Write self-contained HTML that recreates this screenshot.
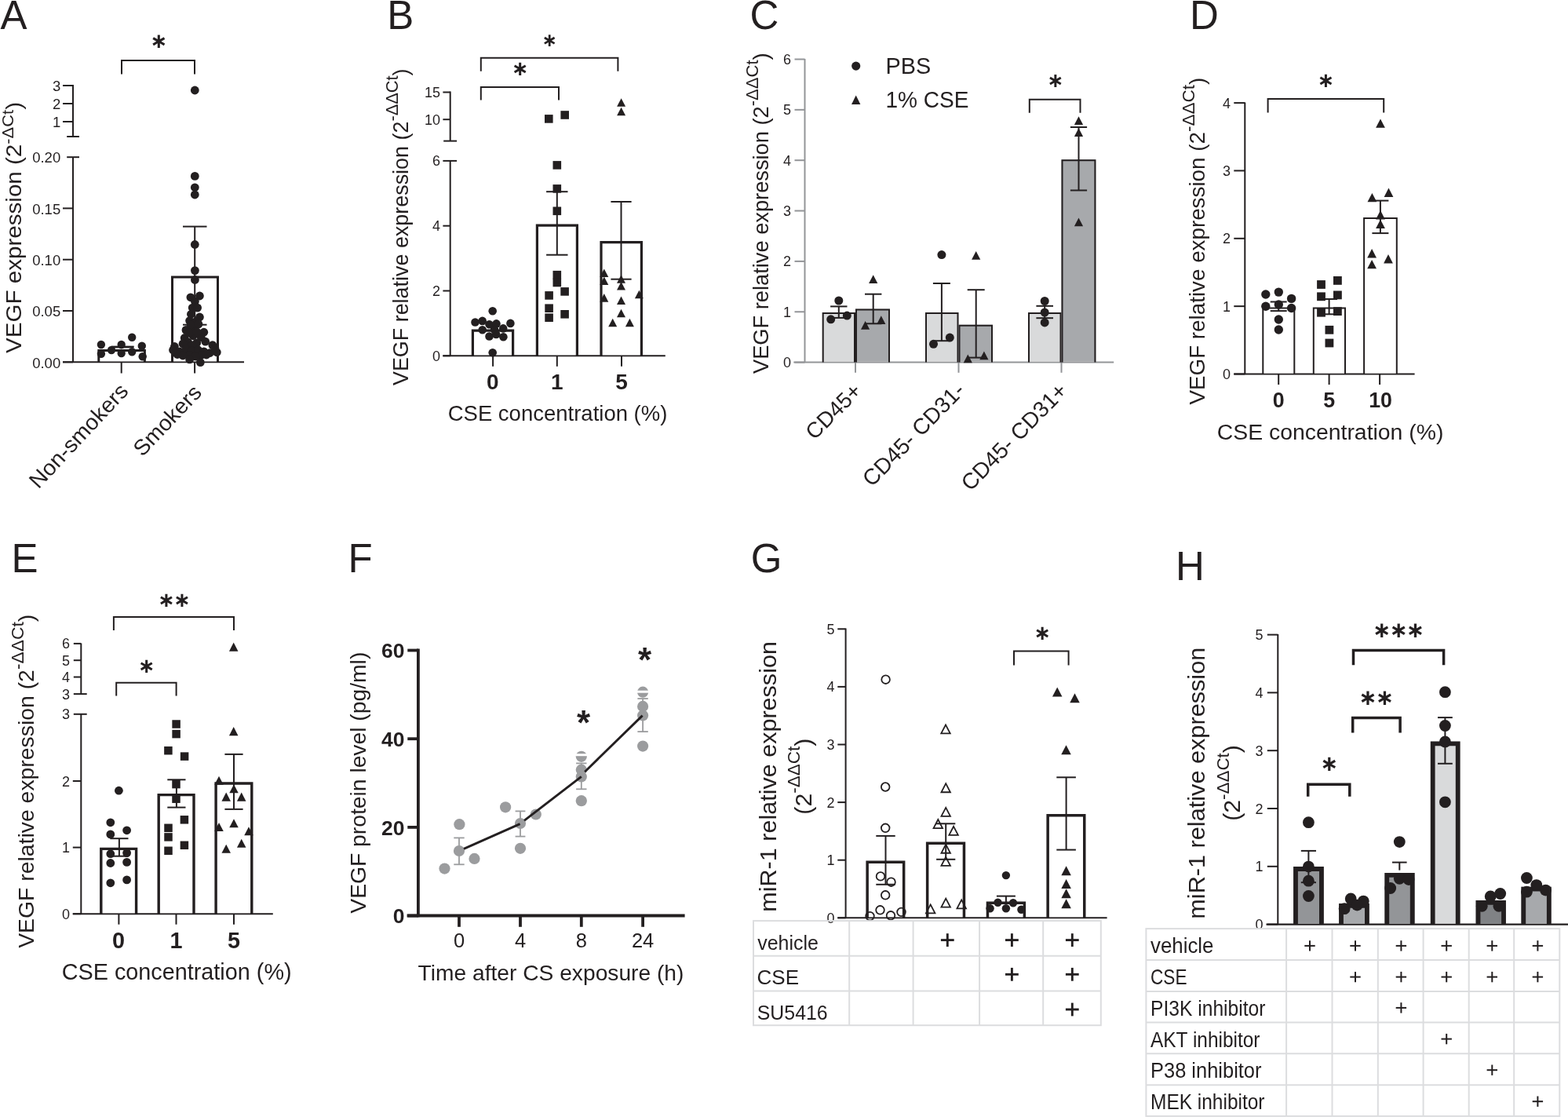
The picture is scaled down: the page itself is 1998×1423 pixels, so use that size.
<!DOCTYPE html>
<html><head><meta charset="utf-8"><title>Figure</title>
<style>html,body{margin:0;padding:0;background:#fff;overflow:hidden}svg{display:block}</style></head>
<body>
<svg xmlns="http://www.w3.org/2000/svg" width="1998" height="1423" viewBox="0 0 1998 1423">
<rect width="1998" height="1423" fill="#fff"/>
<text x="0.5" y="36.9" font-size="51" font-family="'Liberation Sans', Arial, sans-serif" fill="#231f20">A</text>
<line x1="93" y1="108" x2="93" y2="174" stroke="#231f20" stroke-width="2" stroke-linecap="butt"/>
<line x1="80" y1="109" x2="93" y2="109" stroke="#231f20" stroke-width="2" stroke-linecap="butt"/>
<text x="77.2" y="116.2" font-size="18.5" font-family="'Liberation Sans', Arial, sans-serif" fill="#231f20" text-anchor="end">3</text>
<line x1="80" y1="132" x2="93" y2="132" stroke="#231f20" stroke-width="2" stroke-linecap="butt"/>
<text x="77.2" y="139.2" font-size="18.5" font-family="'Liberation Sans', Arial, sans-serif" fill="#231f20" text-anchor="end">2</text>
<line x1="80" y1="155" x2="93" y2="155" stroke="#231f20" stroke-width="2" stroke-linecap="butt"/>
<text x="77.2" y="162.2" font-size="18.5" font-family="'Liberation Sans', Arial, sans-serif" fill="#231f20" text-anchor="end">1</text>
<line x1="85.2" y1="174" x2="101" y2="174" stroke="#231f20" stroke-width="2" stroke-linecap="butt"/>
<line x1="93" y1="200" x2="93" y2="462" stroke="#231f20" stroke-width="2" stroke-linecap="butt"/>
<line x1="85.2" y1="200.2" x2="101" y2="200.2" stroke="#231f20" stroke-width="2" stroke-linecap="butt"/>
<text x="77.2" y="207.3" font-size="18.5" font-family="'Liberation Sans', Arial, sans-serif" fill="#231f20" text-anchor="end">0.20</text>
<line x1="80" y1="265.4" x2="93" y2="265.4" stroke="#231f20" stroke-width="2" stroke-linecap="butt"/>
<text x="77.2" y="272.6" font-size="18.5" font-family="'Liberation Sans', Arial, sans-serif" fill="#231f20" text-anchor="end">0.15</text>
<line x1="80" y1="330.7" x2="93" y2="330.7" stroke="#231f20" stroke-width="2" stroke-linecap="butt"/>
<text x="77.2" y="337.9" font-size="18.5" font-family="'Liberation Sans', Arial, sans-serif" fill="#231f20" text-anchor="end">0.10</text>
<line x1="80" y1="396" x2="93" y2="396" stroke="#231f20" stroke-width="2" stroke-linecap="butt"/>
<text x="77.2" y="403.2" font-size="18.5" font-family="'Liberation Sans', Arial, sans-serif" fill="#231f20" text-anchor="end">0.05</text>
<line x1="80" y1="461.3" x2="93" y2="461.3" stroke="#231f20" stroke-width="2" stroke-linecap="butt"/>
<text x="77.2" y="468.5" font-size="18.5" font-family="'Liberation Sans', Arial, sans-serif" fill="#231f20" text-anchor="end">0.00</text>
<line x1="80" y1="461.3" x2="311" y2="461.3" stroke="#231f20" stroke-width="2" stroke-linecap="butt"/>
<line x1="154.7" y1="461.3" x2="154.7" y2="475.5" stroke="#231f20" stroke-width="2" stroke-linecap="butt"/>
<line x1="248.1" y1="461.3" x2="248.1" y2="475.5" stroke="#231f20" stroke-width="2" stroke-linecap="butt"/>
<rect x="124.3" y="445" width="61.6" height="15.3" fill="#fff"/>
<path d="M125.8,461.3 V446.5 H184.4 V461.3" fill="none" stroke="#231f20" stroke-width="3" stroke-linejoin="miter"/>
<rect x="218" y="351.6" width="61" height="108.7" fill="#fff"/>
<path d="M219.5,461.3 V353.1 H277.5 V461.3" fill="none" stroke="#231f20" stroke-width="3" stroke-linejoin="miter"/>
<line x1="248.2" y1="288.6" x2="248.2" y2="413.7" stroke="#231f20" stroke-width="2" stroke-linecap="butt"/>
<line x1="233" y1="288.6" x2="263.5" y2="288.6" stroke="#231f20" stroke-width="2" stroke-linecap="butt"/>
<line x1="233" y1="413.7" x2="263.5" y2="413.7" stroke="#231f20" stroke-width="2" stroke-linecap="butt"/>
<line x1="142" y1="442" x2="170.7" y2="442" stroke="#231f20" stroke-width="2.8" stroke-linecap="butt"/>
<circle cx="128.9" cy="439" r="5.2" fill="#231f20"/>
<circle cx="142" cy="446" r="5.2" fill="#231f20"/>
<circle cx="154.7" cy="439" r="5.2" fill="#231f20"/>
<circle cx="168.2" cy="429.7" r="5.2" fill="#231f20"/>
<circle cx="180.8" cy="440.7" r="5.2" fill="#231f20"/>
<circle cx="128.9" cy="450.8" r="5.2" fill="#231f20"/>
<circle cx="154.7" cy="450" r="5.2" fill="#231f20"/>
<circle cx="168.2" cy="448.3" r="5.2" fill="#231f20"/>
<circle cx="181.7" cy="454.2" r="5.2" fill="#231f20"/>
<circle cx="248.3" cy="115" r="5.4" fill="#231f20"/>
<circle cx="248.3" cy="224.4" r="5.4" fill="#231f20"/>
<circle cx="248.3" cy="238.8" r="5.4" fill="#231f20"/>
<circle cx="248.3" cy="248" r="5.4" fill="#231f20"/>
<circle cx="248.3" cy="311.5" r="5.4" fill="#231f20"/>
<circle cx="248.4" cy="344.6" r="5.4" fill="#231f20"/>
<circle cx="248.4" cy="356.5" r="5.4" fill="#231f20"/>
<circle cx="242.9" cy="378.8" r="5.4" fill="#231f20"/>
<circle cx="254.4" cy="377" r="5.4" fill="#231f20"/>
<circle cx="248.4" cy="383.9" r="5.4" fill="#231f20"/>
<circle cx="245.2" cy="392.1" r="5.4" fill="#231f20"/>
<circle cx="251.6" cy="392.1" r="5.4" fill="#231f20"/>
<circle cx="243.4" cy="400.3" r="5.4" fill="#231f20"/>
<circle cx="254.4" cy="404" r="5.4" fill="#231f20"/>
<circle cx="241.6" cy="408.6" r="5.4" fill="#231f20"/>
<circle cx="249.8" cy="409.5" r="5.4" fill="#231f20"/>
<circle cx="237" cy="420.4" r="5.4" fill="#231f20"/>
<circle cx="248" cy="417.7" r="5.4" fill="#231f20"/>
<circle cx="259.8" cy="423.2" r="5.4" fill="#231f20"/>
<circle cx="243" cy="414" r="5.4" fill="#231f20"/>
<circle cx="253" cy="413" r="5.4" fill="#231f20"/>
<circle cx="235.2" cy="430.5" r="5.4" fill="#231f20"/>
<circle cx="246.1" cy="427.8" r="5.4" fill="#231f20"/>
<circle cx="256.2" cy="429.6" r="5.4" fill="#231f20"/>
<circle cx="241" cy="424" r="5.4" fill="#231f20"/>
<circle cx="251" cy="423" r="5.4" fill="#231f20"/>
<circle cx="239.7" cy="436" r="5.4" fill="#231f20"/>
<circle cx="250.7" cy="436.9" r="5.4" fill="#231f20"/>
<circle cx="261.7" cy="435.1" r="5.4" fill="#231f20"/>
<circle cx="233" cy="438" r="5.4" fill="#231f20"/>
<circle cx="245" cy="440" r="5.4" fill="#231f20"/>
<circle cx="222.4" cy="441.5" r="5.4" fill="#231f20"/>
<circle cx="228.8" cy="447.9" r="5.4" fill="#231f20"/>
<circle cx="237" cy="445.1" r="5.4" fill="#231f20"/>
<circle cx="244.3" cy="446.9" r="5.4" fill="#231f20"/>
<circle cx="252.5" cy="446" r="5.4" fill="#231f20"/>
<circle cx="259.8" cy="447.9" r="5.4" fill="#231f20"/>
<circle cx="270.8" cy="439.6" r="5.4" fill="#231f20"/>
<circle cx="276.3" cy="448.8" r="5.4" fill="#231f20"/>
<circle cx="267.2" cy="449.7" r="5.4" fill="#231f20"/>
<circle cx="226" cy="451.5" r="5.4" fill="#231f20"/>
<circle cx="241.6" cy="452.4" r="5.4" fill="#231f20"/>
<circle cx="256.2" cy="452.4" r="5.4" fill="#231f20"/>
<circle cx="233" cy="453" r="5.4" fill="#231f20"/>
<circle cx="249" cy="454" r="5.4" fill="#231f20"/>
<circle cx="263" cy="452" r="5.4" fill="#231f20"/>
<circle cx="220.5" cy="446" r="5.4" fill="#231f20"/>
<circle cx="274" cy="444" r="5.4" fill="#231f20"/>
<circle cx="241.6" cy="457.9" r="5.4" fill="#231f20"/>
<circle cx="255.3" cy="461.6" r="5.4" fill="#231f20"/>
<polyline points="155,94.5 155,77 248,77 248,94.5" fill="none" stroke="#231f20" stroke-width="2" stroke-linejoin="miter"/>
<text x="202.2" y="60.75" font-size="26.5" font-family="'DejaVu Sans', 'Liberation Sans', sans-serif" font-weight="bold" fill="#231f20" text-anchor="middle">∗</text>
<text x="27" y="450" font-size="27" font-family="'Liberation Sans', Arial, sans-serif" fill="#231f20" transform="rotate(-90 27 450)" textLength="320" lengthAdjust="spacingAndGlyphs">VEGF expression (2<tspan font-size="20" dy="-10.5">-ΔCt</tspan><tspan dy="10.5">)</tspan></text>
<text x="165" y="499.5" font-size="27.8" font-family="'Liberation Sans', Arial, sans-serif" fill="#231f20" text-anchor="end" textLength="170" lengthAdjust="spacingAndGlyphs" transform="rotate(-47 165 499.5)">Non-smokers</text>
<text x="258.5" y="501.5" font-size="27.8" font-family="'Liberation Sans', Arial, sans-serif" fill="#231f20" text-anchor="end" textLength="112" lengthAdjust="spacingAndGlyphs" transform="rotate(-46.5 258.5 501.5)">Smokers</text>
<text x="493.3" y="36.9" font-size="51" font-family="'Liberation Sans', Arial, sans-serif" fill="#231f20">B</text>
<line x1="573.7" y1="116.5" x2="573.7" y2="179.6" stroke="#231f20" stroke-width="2" stroke-linecap="butt"/>
<line x1="564.4" y1="117.5" x2="573.7" y2="117.5" stroke="#231f20" stroke-width="2" stroke-linecap="butt"/>
<text x="561" y="124" font-size="18" font-family="'Liberation Sans', Arial, sans-serif" fill="#231f20" text-anchor="end">15</text>
<line x1="564.4" y1="152.2" x2="573.7" y2="152.2" stroke="#231f20" stroke-width="2" stroke-linecap="butt"/>
<text x="561" y="158.7" font-size="18" font-family="'Liberation Sans', Arial, sans-serif" fill="#231f20" text-anchor="end">10</text>
<line x1="565.2" y1="179.6" x2="582.1" y2="179.6" stroke="#231f20" stroke-width="2" stroke-linecap="butt"/>
<line x1="573.7" y1="204.9" x2="573.7" y2="454" stroke="#231f20" stroke-width="2" stroke-linecap="butt"/>
<line x1="564.4" y1="204.9" x2="582.1" y2="204.9" stroke="#231f20" stroke-width="2" stroke-linecap="butt"/>
<text x="561" y="211.4" font-size="18" font-family="'Liberation Sans', Arial, sans-serif" fill="#231f20" text-anchor="end">6</text>
<line x1="564.4" y1="287.7" x2="573.7" y2="287.7" stroke="#231f20" stroke-width="2" stroke-linecap="butt"/>
<text x="561" y="294.2" font-size="18" font-family="'Liberation Sans', Arial, sans-serif" fill="#231f20" text-anchor="end">4</text>
<line x1="564.4" y1="370.5" x2="573.7" y2="370.5" stroke="#231f20" stroke-width="2" stroke-linecap="butt"/>
<text x="561" y="377" font-size="18" font-family="'Liberation Sans', Arial, sans-serif" fill="#231f20" text-anchor="end">2</text>
<line x1="564.4" y1="453.3" x2="573.7" y2="453.3" stroke="#231f20" stroke-width="2" stroke-linecap="butt"/>
<text x="561" y="459.8" font-size="18" font-family="'Liberation Sans', Arial, sans-serif" fill="#231f20" text-anchor="end">0</text>
<line x1="564.4" y1="453.3" x2="847.8" y2="453.3" stroke="#231f20" stroke-width="2" stroke-linecap="butt"/>
<line x1="628.1" y1="453.3" x2="628.1" y2="466.8" stroke="#231f20" stroke-width="2" stroke-linecap="butt"/>
<line x1="709.8" y1="453.3" x2="709.8" y2="466.8" stroke="#231f20" stroke-width="2" stroke-linecap="butt"/>
<line x1="792" y1="453.3" x2="792" y2="466.8" stroke="#231f20" stroke-width="2" stroke-linecap="butt"/>
<rect x="600.8" y="419.5" width="54.4" height="32.8" fill="#fff"/>
<path d="M602.4,453.3 V421.1 H653.6 V453.3" fill="none" stroke="#231f20" stroke-width="3.2" stroke-linejoin="miter"/>
<rect x="682.8" y="285.5" width="54.2" height="166.8" fill="#fff"/>
<path d="M684.4,453.3 V287.1 H735.4 V453.3" fill="none" stroke="#231f20" stroke-width="3.2" stroke-linejoin="miter"/>
<rect x="764.4" y="307.1" width="54.6" height="145.2" fill="#fff"/>
<path d="M766,453.3 V308.7 H817.4 V453.3" fill="none" stroke="#231f20" stroke-width="3.2" stroke-linejoin="miter"/>
<line x1="709.8" y1="244.2" x2="709.8" y2="324.7" stroke="#231f20" stroke-width="2" stroke-linecap="butt"/>
<line x1="696.1" y1="244.2" x2="723.5" y2="244.2" stroke="#231f20" stroke-width="2" stroke-linecap="butt"/>
<line x1="696.1" y1="324.7" x2="723.5" y2="324.7" stroke="#231f20" stroke-width="2" stroke-linecap="butt"/>
<line x1="791.5" y1="257" x2="791.5" y2="355.7" stroke="#231f20" stroke-width="2" stroke-linecap="butt"/>
<line x1="778.4" y1="257" x2="804.6" y2="257" stroke="#231f20" stroke-width="2" stroke-linecap="butt"/>
<line x1="778.4" y1="355.7" x2="804.6" y2="355.7" stroke="#231f20" stroke-width="2" stroke-linecap="butt"/>
<line x1="620" y1="416" x2="636" y2="416" stroke="#231f20" stroke-width="2" stroke-linecap="butt"/>
<circle cx="627.7" cy="396.3" r="5.3" fill="#231f20"/>
<circle cx="605.5" cy="410.5" r="5.3" fill="#231f20"/>
<circle cx="614.7" cy="408.9" r="5.3" fill="#231f20"/>
<circle cx="623.5" cy="413.2" r="5.3" fill="#231f20"/>
<circle cx="632.5" cy="412.4" r="5.3" fill="#231f20"/>
<circle cx="650.4" cy="411.9" r="5.3" fill="#231f20"/>
<circle cx="614.7" cy="420.3" r="5.3" fill="#231f20"/>
<circle cx="641.2" cy="418.4" r="5.3" fill="#231f20"/>
<circle cx="630" cy="420" r="5.3" fill="#231f20"/>
<circle cx="623.5" cy="428.5" r="5.3" fill="#231f20"/>
<circle cx="632.2" cy="425.9" r="5.3" fill="#231f20"/>
<circle cx="641.4" cy="429.3" r="5.3" fill="#231f20"/>
<circle cx="627.7" cy="449.2" r="5.3" fill="#231f20"/>
<rect x="694" y="146.1" width="10.6" height="10.6" fill="#231f20"/>
<rect x="714.4" y="141.2" width="10.6" height="10.6" fill="#231f20"/>
<rect x="704.5" y="205.1" width="10.6" height="10.6" fill="#231f20"/>
<rect x="704.5" y="235.1" width="10.6" height="10.6" fill="#231f20"/>
<rect x="704.5" y="263.5" width="10.6" height="10.6" fill="#231f20"/>
<rect x="704.5" y="344.9" width="10.6" height="10.6" fill="#231f20"/>
<rect x="704.5" y="354.7" width="10.6" height="10.6" fill="#231f20"/>
<rect x="694.3" y="371.1" width="10.6" height="10.6" fill="#231f20"/>
<rect x="714.3" y="366.1" width="10.6" height="10.6" fill="#231f20"/>
<rect x="694.3" y="387.4" width="10.6" height="10.6" fill="#231f20"/>
<rect x="694.3" y="399.4" width="10.6" height="10.6" fill="#231f20"/>
<rect x="714.3" y="395" width="10.6" height="10.6" fill="#231f20"/>
<polygon points="791.6,125.2 797.1,135.76 786.1,135.76" fill="#231f20"/>
<polygon points="791.6,136.8 797.1,147.36 786.1,147.36" fill="#231f20"/>
<polygon points="769.8,342.4 775.3,352.96 764.3,352.96" fill="#231f20"/>
<polygon points="769.8,352.4 775.3,362.96 764.3,362.96" fill="#231f20"/>
<polygon points="791.5,350.2 797,360.76 786,360.76" fill="#231f20"/>
<polygon points="791.5,358.9 797,369.46 786,369.46" fill="#231f20"/>
<polygon points="769.8,374.1 775.3,384.66 764.3,384.66" fill="#231f20"/>
<polygon points="814.4,369.8 819.9,380.36 808.9,380.36" fill="#231f20"/>
<polygon points="791.5,377.4 797,387.96 786,387.96" fill="#231f20"/>
<polygon points="791.5,393.7 797,404.26 786,404.26" fill="#231f20"/>
<polygon points="780.7,405.7 786.2,416.26 775.2,416.26" fill="#231f20"/>
<polygon points="802.4,405.7 807.9,416.26 796.9,416.26" fill="#231f20"/>
<polyline points="612.8,90.7 612.8,73.8 787.4,73.8 787.4,90.7" fill="none" stroke="#231f20" stroke-width="2" stroke-linejoin="miter"/>
<polyline points="612.8,127.6 612.8,111 712,111 712,127.6" fill="none" stroke="#231f20" stroke-width="2" stroke-linejoin="miter"/>
<text x="700.3" y="58.9" font-size="23.5" font-family="'DejaVu Sans', 'Liberation Sans', sans-serif" font-weight="bold" fill="#231f20" text-anchor="middle">∗</text>
<text x="662.9" y="95.89" font-size="26" font-family="'DejaVu Sans', 'Liberation Sans', sans-serif" font-weight="bold" fill="#231f20" text-anchor="middle">∗</text>
<text x="627.9" y="496.2" font-size="28" font-family="'Liberation Sans', Arial, sans-serif" fill="#231f20" text-anchor="middle" font-weight="bold">0</text>
<text x="709.8" y="496.2" font-size="28" font-family="'Liberation Sans', Arial, sans-serif" fill="#231f20" text-anchor="middle" font-weight="bold">1</text>
<text x="792" y="496.2" font-size="28" font-family="'Liberation Sans', Arial, sans-serif" fill="#231f20" text-anchor="middle" font-weight="bold">5</text>
<text x="570.7" y="535.8" font-size="27.5" font-family="'Liberation Sans', Arial, sans-serif" fill="#231f20">CSE concentration (%)</text>
<text x="520.2" y="491" font-size="27.8" font-family="'Liberation Sans', Arial, sans-serif" fill="#231f20" transform="rotate(-90 520.2 491)" textLength="403.5" lengthAdjust="spacingAndGlyphs">VEGF relative expression (2<tspan font-size="22.5" dy="-13">-ΔΔCt</tspan><tspan dy="13">)</tspan></text>
<text x="955.5" y="37" font-size="51" font-family="'Liberation Sans', Arial, sans-serif" fill="#231f20">C</text>
<line x1="1025.5" y1="75" x2="1025.5" y2="462" stroke="#939598" stroke-width="2" stroke-linecap="butt"/>
<line x1="1012.5" y1="461.6" x2="1025.5" y2="461.6" stroke="#939598" stroke-width="2" stroke-linecap="butt"/>
<text x="1008" y="468.1" font-size="18" font-family="'Liberation Sans', Arial, sans-serif" fill="#231f20" text-anchor="end">0</text>
<line x1="1012.5" y1="397.25" x2="1025.5" y2="397.25" stroke="#939598" stroke-width="2" stroke-linecap="butt"/>
<text x="1008" y="403.75" font-size="18" font-family="'Liberation Sans', Arial, sans-serif" fill="#231f20" text-anchor="end">1</text>
<line x1="1012.5" y1="332.9" x2="1025.5" y2="332.9" stroke="#939598" stroke-width="2" stroke-linecap="butt"/>
<text x="1008" y="339.4" font-size="18" font-family="'Liberation Sans', Arial, sans-serif" fill="#231f20" text-anchor="end">2</text>
<line x1="1012.5" y1="268.55" x2="1025.5" y2="268.55" stroke="#939598" stroke-width="2" stroke-linecap="butt"/>
<text x="1008" y="275.05" font-size="18" font-family="'Liberation Sans', Arial, sans-serif" fill="#231f20" text-anchor="end">3</text>
<line x1="1012.5" y1="204.2" x2="1025.5" y2="204.2" stroke="#939598" stroke-width="2" stroke-linecap="butt"/>
<text x="1008" y="210.7" font-size="18" font-family="'Liberation Sans', Arial, sans-serif" fill="#231f20" text-anchor="end">4</text>
<line x1="1012.5" y1="139.85" x2="1025.5" y2="139.85" stroke="#939598" stroke-width="2" stroke-linecap="butt"/>
<text x="1008" y="146.35" font-size="18" font-family="'Liberation Sans', Arial, sans-serif" fill="#231f20" text-anchor="end">5</text>
<line x1="1012.5" y1="75.5" x2="1025.5" y2="75.5" stroke="#939598" stroke-width="2" stroke-linecap="butt"/>
<text x="1008" y="82" font-size="18" font-family="'Liberation Sans', Arial, sans-serif" fill="#231f20" text-anchor="end">6</text>
<line x1="1011.3" y1="461.6" x2="1419.2" y2="461.6" stroke="#939598" stroke-width="2" stroke-linecap="butt"/>
<line x1="1090" y1="461.6" x2="1090" y2="474.8" stroke="#939598" stroke-width="2" stroke-linecap="butt"/>
<line x1="1221.5" y1="461.6" x2="1221.5" y2="474.8" stroke="#939598" stroke-width="2" stroke-linecap="butt"/>
<line x1="1352.5" y1="461.6" x2="1352.5" y2="474.8" stroke="#939598" stroke-width="2" stroke-linecap="butt"/>
<rect x="1047.7" y="398" width="42.3" height="62.6" fill="#d9dadb"/>
<path d="M1048.7,461.6 V399 H1089 V461.6" fill="none" stroke="#231f20" stroke-width="2" stroke-linejoin="miter"/>
<rect x="1090" y="393.6" width="44" height="67" fill="#a7a9ac"/>
<path d="M1091,461.6 V394.6 H1133 V461.6" fill="none" stroke="#231f20" stroke-width="2" stroke-linejoin="miter"/>
<rect x="1179" y="398" width="42.5" height="62.6" fill="#d9dadb"/>
<path d="M1180,461.6 V399 H1220.5 V461.6" fill="none" stroke="#231f20" stroke-width="2" stroke-linejoin="miter"/>
<rect x="1221.5" y="413.7" width="43.5" height="46.9" fill="#a7a9ac"/>
<path d="M1222.5,461.6 V414.7 H1264 V461.6" fill="none" stroke="#231f20" stroke-width="2" stroke-linejoin="miter"/>
<rect x="1310" y="398" width="42.5" height="62.6" fill="#d9dadb"/>
<path d="M1311,461.6 V399 H1351.5 V461.6" fill="none" stroke="#231f20" stroke-width="2" stroke-linejoin="miter"/>
<rect x="1352.5" y="203.3" width="43.9" height="257.3" fill="#a7a9ac"/>
<path d="M1353.5,461.6 V204.3 H1395.4 V461.6" fill="none" stroke="#231f20" stroke-width="2" stroke-linejoin="miter"/>
<line x1="1068.8" y1="390.4" x2="1068.8" y2="404.9" stroke="#231f20" stroke-width="2" stroke-linecap="butt"/>
<line x1="1058.1" y1="390.4" x2="1079.5" y2="390.4" stroke="#231f20" stroke-width="2" stroke-linecap="butt"/>
<line x1="1058.1" y1="404.9" x2="1079.5" y2="404.9" stroke="#231f20" stroke-width="2" stroke-linecap="butt"/>
<line x1="1112.7" y1="374.7" x2="1112.7" y2="412.3" stroke="#231f20" stroke-width="2" stroke-linecap="butt"/>
<line x1="1102" y1="374.7" x2="1123.4" y2="374.7" stroke="#231f20" stroke-width="2" stroke-linecap="butt"/>
<line x1="1102" y1="412.3" x2="1123.4" y2="412.3" stroke="#231f20" stroke-width="2" stroke-linecap="butt"/>
<line x1="1199.9" y1="361" x2="1199.9" y2="434.2" stroke="#231f20" stroke-width="2" stroke-linecap="butt"/>
<line x1="1188.9" y1="361" x2="1210.9" y2="361" stroke="#231f20" stroke-width="2" stroke-linecap="butt"/>
<line x1="1188.9" y1="434.2" x2="1210.9" y2="434.2" stroke="#231f20" stroke-width="2" stroke-linecap="butt"/>
<line x1="1243.7" y1="369.2" x2="1243.7" y2="455.6" stroke="#231f20" stroke-width="2" stroke-linecap="butt"/>
<line x1="1232.7" y1="369.2" x2="1254.7" y2="369.2" stroke="#231f20" stroke-width="2" stroke-linecap="butt"/>
<line x1="1232.7" y1="455.6" x2="1254.7" y2="455.6" stroke="#231f20" stroke-width="2" stroke-linecap="butt"/>
<line x1="1331.2" y1="389.8" x2="1331.2" y2="405.2" stroke="#231f20" stroke-width="2" stroke-linecap="butt"/>
<line x1="1320.4" y1="389.8" x2="1342" y2="389.8" stroke="#231f20" stroke-width="2" stroke-linecap="butt"/>
<line x1="1320.4" y1="405.2" x2="1342" y2="405.2" stroke="#231f20" stroke-width="2" stroke-linecap="butt"/>
<line x1="1374.5" y1="162" x2="1374.5" y2="242.5" stroke="#231f20" stroke-width="2" stroke-linecap="butt"/>
<line x1="1363.9" y1="162" x2="1385.1" y2="162" stroke="#231f20" stroke-width="2" stroke-linecap="butt"/>
<line x1="1363.9" y1="242.5" x2="1385.1" y2="242.5" stroke="#231f20" stroke-width="2" stroke-linecap="butt"/>
<circle cx="1068.8" cy="383" r="5.5" fill="#231f20"/>
<circle cx="1058.7" cy="406.8" r="5.5" fill="#231f20"/>
<circle cx="1079.3" cy="402.1" r="5.5" fill="#231f20"/>
<circle cx="1199.9" cy="324.6" r="5.5" fill="#231f20"/>
<circle cx="1189.5" cy="438.3" r="5.5" fill="#231f20"/>
<circle cx="1210.3" cy="430.1" r="5.5" fill="#231f20"/>
<circle cx="1331.2" cy="383.5" r="5.5" fill="#231f20"/>
<circle cx="1331.2" cy="398" r="5.5" fill="#231f20"/>
<circle cx="1331.2" cy="410.9" r="5.5" fill="#231f20"/>
<polygon points="1112.7,350.18 1118.3,360.93 1107.1,360.93" fill="#231f20"/>
<polygon points="1102.6,409.08 1108.2,419.83 1097,419.83" fill="#231f20"/>
<polygon points="1122.8,402.28 1128.4,413.03 1117.2,413.03" fill="#231f20"/>
<polygon points="1243.7,320.08 1249.3,330.83 1238.1,330.83" fill="#231f20"/>
<polygon points="1233.3,451.58 1238.9,462.33 1227.7,462.33" fill="#231f20"/>
<polygon points="1253.9,447.48 1259.5,458.23 1248.3,458.23" fill="#231f20"/>
<polygon points="1374.5,148.28 1380.1,159.03 1368.9,159.03" fill="#231f20"/>
<polygon points="1374.5,163.28 1380.1,174.03 1368.9,174.03" fill="#231f20"/>
<polygon points="1374.5,277.58 1380.1,288.33 1368.9,288.33" fill="#231f20"/>
<circle cx="1090.7" cy="84.1" r="5.6" fill="#231f20"/>
<polygon points="1090.7,121.6 1096.4,133.1 1085,133.1" fill="#231f20"/>
<text x="1128.5" y="93.9" font-size="28.8" font-family="'Liberation Sans', Arial, sans-serif" fill="#231f20">PBS</text>
<text x="1128.5" y="136.9" font-size="28.8" font-family="'Liberation Sans', Arial, sans-serif" fill="#231f20" textLength="106" lengthAdjust="spacingAndGlyphs">1% CSE</text>
<polyline points="1311.8,143.8 1311.8,126.8 1376.5,126.8 1376.5,143.8" fill="none" stroke="#231f20" stroke-width="2" stroke-linejoin="miter"/>
<text x="1344.9" y="110.83" font-size="25.5" font-family="'DejaVu Sans', 'Liberation Sans', sans-serif" font-weight="bold" fill="#231f20" text-anchor="middle">∗</text>
<text x="1099.5" y="499.8" font-size="27.8" font-family="'Liberation Sans', Arial, sans-serif" fill="#231f20" text-anchor="end" transform="rotate(-45 1099.5 499.8)">CD45+</text>
<text x="1231" y="499" font-size="28.3" font-family="'Liberation Sans', Arial, sans-serif" fill="#231f20" text-anchor="end" transform="rotate(-45.5 1231 499)">CD45- CD31-</text>
<text x="1361.5" y="499.5" font-size="28.3" font-family="'Liberation Sans', Arial, sans-serif" fill="#231f20" text-anchor="end" transform="rotate(-45.5 1361.5 499.5)">CD45- CD31+</text>
<text x="979" y="476" font-size="27.8" font-family="'Liberation Sans', Arial, sans-serif" fill="#231f20" transform="rotate(-90 979 476)" textLength="408.7" lengthAdjust="spacingAndGlyphs">VEGF relative expression (2<tspan font-size="22.5" dy="-13">-ΔΔCt</tspan><tspan dy="13">)</tspan></text>
<text x="1516" y="36.9" font-size="51" font-family="'Liberation Sans', Arial, sans-serif" fill="#231f20">D</text>
<line x1="1586.3" y1="130.5" x2="1586.3" y2="477" stroke="#231f20" stroke-width="2" stroke-linecap="butt"/>
<line x1="1572.3" y1="476.5" x2="1586.3" y2="476.5" stroke="#231f20" stroke-width="2" stroke-linecap="butt"/>
<text x="1568" y="483" font-size="18" font-family="'Liberation Sans', Arial, sans-serif" fill="#231f20" text-anchor="end">0</text>
<line x1="1572.3" y1="390.15" x2="1586.3" y2="390.15" stroke="#231f20" stroke-width="2" stroke-linecap="butt"/>
<text x="1568" y="396.65" font-size="18" font-family="'Liberation Sans', Arial, sans-serif" fill="#231f20" text-anchor="end">1</text>
<line x1="1572.3" y1="303.8" x2="1586.3" y2="303.8" stroke="#231f20" stroke-width="2" stroke-linecap="butt"/>
<text x="1568" y="310.3" font-size="18" font-family="'Liberation Sans', Arial, sans-serif" fill="#231f20" text-anchor="end">2</text>
<line x1="1572.3" y1="217.45" x2="1586.3" y2="217.45" stroke="#231f20" stroke-width="2" stroke-linecap="butt"/>
<text x="1568" y="223.95" font-size="18" font-family="'Liberation Sans', Arial, sans-serif" fill="#231f20" text-anchor="end">3</text>
<line x1="1572.3" y1="131.1" x2="1586.3" y2="131.1" stroke="#231f20" stroke-width="2" stroke-linecap="butt"/>
<text x="1568" y="137.6" font-size="18" font-family="'Liberation Sans', Arial, sans-serif" fill="#231f20" text-anchor="end">4</text>
<line x1="1572.3" y1="476.5" x2="1802.6" y2="476.5" stroke="#231f20" stroke-width="2" stroke-linecap="butt"/>
<line x1="1629.2" y1="476.5" x2="1629.2" y2="490" stroke="#231f20" stroke-width="2" stroke-linecap="butt"/>
<line x1="1693.6" y1="476.5" x2="1693.6" y2="490" stroke="#231f20" stroke-width="2" stroke-linecap="butt"/>
<line x1="1758.1" y1="476.5" x2="1758.1" y2="490" stroke="#231f20" stroke-width="2" stroke-linecap="butt"/>
<rect x="1608.3" y="391.4" width="42" height="84.1" fill="#fff"/>
<path d="M1609.3,476.5 V392.4 H1649.3 V476.5" fill="none" stroke="#231f20" stroke-width="2" stroke-linejoin="miter"/>
<rect x="1672.8" y="391.4" width="42.2" height="84.1" fill="#fff"/>
<path d="M1673.8,476.5 V392.4 H1714 V476.5" fill="none" stroke="#231f20" stroke-width="2" stroke-linejoin="miter"/>
<rect x="1737.1" y="277.1" width="43.7" height="198.4" fill="#fff"/>
<path d="M1738.1,476.5 V278.1 H1779.8 V476.5" fill="none" stroke="#231f20" stroke-width="2" stroke-linejoin="miter"/>
<line x1="1629.2" y1="384.5" x2="1629.2" y2="396.1" stroke="#231f20" stroke-width="2" stroke-linecap="butt"/>
<line x1="1618.7" y1="384.5" x2="1639.7" y2="384.5" stroke="#231f20" stroke-width="2" stroke-linecap="butt"/>
<line x1="1618.7" y1="396.1" x2="1639.7" y2="396.1" stroke="#231f20" stroke-width="2" stroke-linecap="butt"/>
<line x1="1693.6" y1="381" x2="1693.6" y2="400.3" stroke="#231f20" stroke-width="2" stroke-linecap="butt"/>
<line x1="1683.2" y1="381" x2="1704" y2="381" stroke="#231f20" stroke-width="2" stroke-linecap="butt"/>
<line x1="1683.2" y1="400.3" x2="1704" y2="400.3" stroke="#231f20" stroke-width="2" stroke-linecap="butt"/>
<line x1="1758.9" y1="255.6" x2="1758.9" y2="297.1" stroke="#231f20" stroke-width="2" stroke-linecap="butt"/>
<line x1="1748.4" y1="255.6" x2="1769.4" y2="255.6" stroke="#231f20" stroke-width="2" stroke-linecap="butt"/>
<line x1="1748.4" y1="297.1" x2="1769.4" y2="297.1" stroke="#231f20" stroke-width="2" stroke-linecap="butt"/>
<circle cx="1612.8" cy="375" r="5.7" fill="#231f20"/>
<circle cx="1629.3" cy="372.1" r="5.7" fill="#231f20"/>
<circle cx="1645.6" cy="380.4" r="5.7" fill="#231f20"/>
<circle cx="1612.8" cy="390.2" r="5.7" fill="#231f20"/>
<circle cx="1629.3" cy="388" r="5.7" fill="#231f20"/>
<circle cx="1645.6" cy="392.5" r="5.7" fill="#231f20"/>
<circle cx="1629.3" cy="407" r="5.7" fill="#231f20"/>
<circle cx="1629.3" cy="420" r="5.7" fill="#231f20"/>
<rect x="1678.1" y="357.1" width="10.8" height="10.8" fill="#231f20"/>
<rect x="1699" y="352" width="10.8" height="10.8" fill="#231f20"/>
<rect x="1678.1" y="372.4" width="10.8" height="10.8" fill="#231f20"/>
<rect x="1699" y="370.5" width="10.8" height="10.8" fill="#231f20"/>
<rect x="1678.1" y="392.8" width="10.8" height="10.8" fill="#231f20"/>
<rect x="1699" y="391.2" width="10.8" height="10.8" fill="#231f20"/>
<rect x="1688.5" y="414.9" width="10.8" height="10.8" fill="#231f20"/>
<rect x="1688.5" y="431.6" width="10.8" height="10.8" fill="#231f20"/>
<polygon points="1759,151.52 1764.9,162.85 1753.1,162.85" fill="#231f20"/>
<polygon points="1748.4,245.92 1754.3,257.25 1742.5,257.25" fill="#231f20"/>
<polygon points="1769.5,239.62 1775.4,250.95 1763.6,250.95" fill="#231f20"/>
<polygon points="1759,268.12 1764.9,279.45 1753.1,279.45" fill="#231f20"/>
<polygon points="1759,279.72 1764.9,291.05 1753.1,291.05" fill="#231f20"/>
<polygon points="1748.1,317.12 1754,328.45 1742.2,328.45" fill="#231f20"/>
<polygon points="1748.1,331.02 1754,342.35 1742.2,342.35" fill="#231f20"/>
<polygon points="1769,324.12 1774.9,335.45 1763.1,335.45" fill="#231f20"/>
<polyline points="1615.6,143.4 1615.6,126.1 1763.2,126.1 1763.2,143.4" fill="none" stroke="#231f20" stroke-width="2" stroke-linejoin="miter"/>
<text x="1689.7" y="110.69" font-size="26" font-family="'DejaVu Sans', 'Liberation Sans', sans-serif" font-weight="bold" fill="#231f20" text-anchor="middle">∗</text>
<text x="1629.2" y="519.1" font-size="26.8" font-family="'Liberation Sans', Arial, sans-serif" fill="#231f20" text-anchor="middle" font-weight="bold">0</text>
<text x="1693.6" y="519.1" font-size="26.8" font-family="'Liberation Sans', Arial, sans-serif" fill="#231f20" text-anchor="middle" font-weight="bold">5</text>
<text x="1759.1" y="519.1" font-size="26.8" font-family="'Liberation Sans', Arial, sans-serif" fill="#231f20" text-anchor="middle" font-weight="bold">10</text>
<text x="1550.7" y="559.7" font-size="28.4" font-family="'Liberation Sans', Arial, sans-serif" fill="#231f20">CSE concentration (%)</text>
<text x="1534.5" y="515.5" font-size="27.8" font-family="'Liberation Sans', Arial, sans-serif" fill="#231f20" transform="rotate(-90 1534.5 515.5)" textLength="416.7" lengthAdjust="spacingAndGlyphs">VEGF relative expression (2<tspan font-size="22.5" dy="-13">-ΔΔCt</tspan><tspan dy="13">)</tspan></text>
<text x="14.5" y="728.7" font-size="51" font-family="'Liberation Sans', Arial, sans-serif" fill="#231f20">E</text>
<line x1="103.3" y1="819.5" x2="103.3" y2="884.1" stroke="#231f20" stroke-width="2" stroke-linecap="butt"/>
<line x1="93.8" y1="819.9" x2="103.3" y2="819.9" stroke="#231f20" stroke-width="2" stroke-linecap="butt"/>
<text x="89" y="826.4" font-size="18" font-family="'Liberation Sans', Arial, sans-serif" fill="#231f20" text-anchor="end">6</text>
<line x1="93.8" y1="841.2" x2="103.3" y2="841.2" stroke="#231f20" stroke-width="2" stroke-linecap="butt"/>
<text x="89" y="847.7" font-size="18" font-family="'Liberation Sans', Arial, sans-serif" fill="#231f20" text-anchor="end">5</text>
<line x1="93.8" y1="862.5" x2="103.3" y2="862.5" stroke="#231f20" stroke-width="2" stroke-linecap="butt"/>
<text x="89" y="869" font-size="18" font-family="'Liberation Sans', Arial, sans-serif" fill="#231f20" text-anchor="end">4</text>
<line x1="93.8" y1="884.1" x2="110.7" y2="884.1" stroke="#231f20" stroke-width="2" stroke-linecap="butt"/>
<text x="89" y="890.6" font-size="18" font-family="'Liberation Sans', Arial, sans-serif" fill="#231f20" text-anchor="end">3</text>
<line x1="103.3" y1="909.8" x2="103.3" y2="1165" stroke="#231f20" stroke-width="2" stroke-linecap="butt"/>
<line x1="93.8" y1="909.8" x2="110.7" y2="909.8" stroke="#231f20" stroke-width="2" stroke-linecap="butt"/>
<text x="89" y="916.3" font-size="18" font-family="'Liberation Sans', Arial, sans-serif" fill="#231f20" text-anchor="end">3</text>
<line x1="92.8" y1="995" x2="103.3" y2="995" stroke="#231f20" stroke-width="2" stroke-linecap="butt"/>
<text x="89" y="1001.5" font-size="18" font-family="'Liberation Sans', Arial, sans-serif" fill="#231f20" text-anchor="end">2</text>
<line x1="92.8" y1="1079.6" x2="103.3" y2="1079.6" stroke="#231f20" stroke-width="2" stroke-linecap="butt"/>
<text x="89" y="1086.1" font-size="18" font-family="'Liberation Sans', Arial, sans-serif" fill="#231f20" text-anchor="end">1</text>
<line x1="92.8" y1="1164.2" x2="103.3" y2="1164.2" stroke="#231f20" stroke-width="2" stroke-linecap="butt"/>
<text x="89" y="1170.7" font-size="18" font-family="'Liberation Sans', Arial, sans-serif" fill="#231f20" text-anchor="end">0</text>
<line x1="92.8" y1="1164.2" x2="347.8" y2="1164.2" stroke="#231f20" stroke-width="2" stroke-linecap="butt"/>
<line x1="151.4" y1="1164.2" x2="151.4" y2="1177.7" stroke="#231f20" stroke-width="2" stroke-linecap="butt"/>
<line x1="224.5" y1="1164.2" x2="224.5" y2="1177.7" stroke="#231f20" stroke-width="2" stroke-linecap="butt"/>
<line x1="298" y1="1164.2" x2="298" y2="1177.7" stroke="#231f20" stroke-width="2" stroke-linecap="butt"/>
<rect x="127.1" y="1079.7" width="48.2" height="83.5" fill="#fff"/>
<path d="M128.8,1164.2 V1081.4 H173.6 V1164.2" fill="none" stroke="#231f20" stroke-width="3.4" stroke-linejoin="miter"/>
<rect x="200.5" y="1010.9" width="48.2" height="152.3" fill="#fff"/>
<path d="M202.2,1164.2 V1012.6 H247 V1164.2" fill="none" stroke="#231f20" stroke-width="3.4" stroke-linejoin="miter"/>
<rect x="273.4" y="996.3" width="49.1" height="166.9" fill="#fff"/>
<path d="M275.1,1164.2 V998 H320.8 V1164.2" fill="none" stroke="#231f20" stroke-width="3.4" stroke-linejoin="miter"/>
<line x1="151.9" y1="1068.2" x2="151.9" y2="1090.7" stroke="#231f20" stroke-width="2" stroke-linecap="butt"/>
<line x1="140.3" y1="1068.2" x2="163.5" y2="1068.2" stroke="#231f20" stroke-width="2" stroke-linecap="butt"/>
<line x1="140.3" y1="1090.7" x2="163.5" y2="1090.7" stroke="#231f20" stroke-width="2" stroke-linecap="butt"/>
<line x1="224.9" y1="993.3" x2="224.9" y2="1028.6" stroke="#231f20" stroke-width="2" stroke-linecap="butt"/>
<line x1="213.3" y1="993.3" x2="236.5" y2="993.3" stroke="#231f20" stroke-width="2" stroke-linecap="butt"/>
<line x1="213.3" y1="1028.6" x2="236.5" y2="1028.6" stroke="#231f20" stroke-width="2" stroke-linecap="butt"/>
<line x1="298" y1="960.9" x2="298" y2="1030.9" stroke="#231f20" stroke-width="2" stroke-linecap="butt"/>
<line x1="286.4" y1="960.9" x2="309.6" y2="960.9" stroke="#231f20" stroke-width="2" stroke-linecap="butt"/>
<line x1="286.4" y1="1030.9" x2="309.6" y2="1030.9" stroke="#231f20" stroke-width="2" stroke-linecap="butt"/>
<circle cx="151.4" cy="1007.2" r="5.4" fill="#231f20"/>
<circle cx="140.8" cy="1047.8" r="5.4" fill="#231f20"/>
<circle cx="161.6" cy="1057.8" r="5.4" fill="#231f20"/>
<circle cx="140.8" cy="1062.9" r="5.4" fill="#231f20"/>
<circle cx="140.8" cy="1087.7" r="5.4" fill="#231f20"/>
<circle cx="161.6" cy="1086.6" r="5.4" fill="#231f20"/>
<circle cx="140.8" cy="1099.5" r="5.4" fill="#231f20"/>
<circle cx="161.6" cy="1098.4" r="5.4" fill="#231f20"/>
<circle cx="140.8" cy="1124.8" r="5.4" fill="#231f20"/>
<circle cx="161.6" cy="1120.9" r="5.4" fill="#231f20"/>
<rect x="219.35" y="917.25" width="10.5" height="10.5" fill="#231f20"/>
<rect x="219.35" y="929.85" width="10.5" height="10.5" fill="#231f20"/>
<rect x="209.15" y="950.95" width="10.5" height="10.5" fill="#231f20"/>
<rect x="229.85" y="958.35" width="10.5" height="10.5" fill="#231f20"/>
<rect x="219.25" y="993.85" width="10.5" height="10.5" fill="#231f20"/>
<rect x="219.25" y="1012.45" width="10.5" height="10.5" fill="#231f20"/>
<rect x="229.65" y="1039.05" width="10.5" height="10.5" fill="#231f20"/>
<rect x="209.25" y="1049.55" width="10.5" height="10.5" fill="#231f20"/>
<rect x="209.25" y="1061.15" width="10.5" height="10.5" fill="#231f20"/>
<rect x="229.65" y="1071.55" width="10.5" height="10.5" fill="#231f20"/>
<rect x="209.25" y="1078.55" width="10.5" height="10.5" fill="#231f20"/>
<polygon points="297.7,818.6 303.45,829.64 291.95,829.64" fill="#231f20"/>
<polygon points="297.7,926.1 303.45,937.14 291.95,937.14" fill="#231f20"/>
<polygon points="279,988.8 284.75,999.84 273.25,999.84" fill="#231f20"/>
<polygon points="298,999.2 303.75,1010.24 292.25,1010.24" fill="#231f20"/>
<polygon points="288.2,1009.6 293.95,1020.64 282.45,1020.64" fill="#231f20"/>
<polygon points="307.7,1009.6 313.45,1020.64 301.95,1020.64" fill="#231f20"/>
<polygon points="279,1047.9 284.75,1058.94 273.25,1058.94" fill="#231f20"/>
<polygon points="298,1043.2 303.75,1054.24 292.25,1054.24" fill="#231f20"/>
<polygon points="317,1053.2 322.75,1064.24 311.25,1064.24" fill="#231f20"/>
<polygon points="307.7,1068.8 313.45,1079.84 301.95,1079.84" fill="#231f20"/>
<polygon points="288.2,1075.7 293.95,1086.74 282.45,1086.74" fill="#231f20"/>
<polyline points="144.9,803 144.9,786 298,786 298,803" fill="none" stroke="#231f20" stroke-width="2" stroke-linejoin="miter"/>
<polyline points="148.2,886.6 148.2,869.8 224.6,869.8 224.6,886.6" fill="none" stroke="#231f20" stroke-width="2" stroke-linejoin="miter"/>
<text x="212.2" y="772.79" font-size="26" font-family="'DejaVu Sans', 'Liberation Sans', sans-serif" font-weight="bold" fill="#231f20" text-anchor="middle">∗</text>
<text x="232.2" y="772.79" font-size="26" font-family="'DejaVu Sans', 'Liberation Sans', sans-serif" font-weight="bold" fill="#231f20" text-anchor="middle">∗</text>
<text x="187" y="856.69" font-size="26" font-family="'DejaVu Sans', 'Liberation Sans', sans-serif" font-weight="bold" fill="#231f20" text-anchor="middle">∗</text>
<text x="151" y="1208" font-size="28.8" font-family="'Liberation Sans', Arial, sans-serif" fill="#231f20" text-anchor="middle" font-weight="bold">0</text>
<text x="224.5" y="1208" font-size="28.8" font-family="'Liberation Sans', Arial, sans-serif" fill="#231f20" text-anchor="middle" font-weight="bold">1</text>
<text x="298" y="1208" font-size="28.8" font-family="'Liberation Sans', Arial, sans-serif" fill="#231f20" text-anchor="middle" font-weight="bold">5</text>
<text x="78.7" y="1247.9" font-size="28.8" font-family="'Liberation Sans', Arial, sans-serif" fill="#231f20">CSE concentration (%)</text>
<text x="42.9" y="1207.8" font-size="28" font-family="'Liberation Sans', Arial, sans-serif" fill="#231f20" transform="rotate(-90 42.9 1207.8)" textLength="425" lengthAdjust="spacingAndGlyphs">VEGF relative expression (2<tspan font-size="22.5" dy="-13">-ΔΔCt</tspan><tspan dy="13">)</tspan></text>
<text x="443.5" y="728.8" font-size="51" font-family="'Liberation Sans', Arial, sans-serif" fill="#231f20">F</text>
<line x1="532.9" y1="826.6" x2="532.9" y2="1168.3" stroke="#231f20" stroke-width="3.8" stroke-linecap="butt"/>
<line x1="519.3" y1="828.5" x2="532.9" y2="828.5" stroke="#231f20" stroke-width="3.8" stroke-linecap="butt"/>
<text x="515.6" y="838.1" font-size="26.5" font-family="'Liberation Sans', Arial, sans-serif" fill="#231f20" text-anchor="end" font-weight="bold">60</text>
<line x1="519.3" y1="941.2" x2="532.9" y2="941.2" stroke="#231f20" stroke-width="3.8" stroke-linecap="butt"/>
<text x="515.6" y="950.8" font-size="26.5" font-family="'Liberation Sans', Arial, sans-serif" fill="#231f20" text-anchor="end" font-weight="bold">40</text>
<line x1="519.3" y1="1053.9" x2="532.9" y2="1053.9" stroke="#231f20" stroke-width="3.8" stroke-linecap="butt"/>
<text x="515.6" y="1063.5" font-size="26.5" font-family="'Liberation Sans', Arial, sans-serif" fill="#231f20" text-anchor="end" font-weight="bold">20</text>
<line x1="519.3" y1="1166.6" x2="532.9" y2="1166.6" stroke="#231f20" stroke-width="3.8" stroke-linecap="butt"/>
<text x="515.6" y="1176.2" font-size="26.5" font-family="'Liberation Sans', Arial, sans-serif" fill="#231f20" text-anchor="end" font-weight="bold">0</text>
<line x1="518.6" y1="1166.5" x2="872.6" y2="1166.5" stroke="#231f20" stroke-width="3.8" stroke-linecap="butt"/>
<line x1="585" y1="1166.5" x2="585" y2="1180.8" stroke="#231f20" stroke-width="3.8" stroke-linecap="butt"/>
<text x="585" y="1207" font-size="25.5" font-family="'Liberation Sans', Arial, sans-serif" fill="#231f20" text-anchor="middle">0</text>
<line x1="663" y1="1166.5" x2="663" y2="1180.8" stroke="#231f20" stroke-width="3.8" stroke-linecap="butt"/>
<text x="663" y="1207" font-size="25.5" font-family="'Liberation Sans', Arial, sans-serif" fill="#231f20" text-anchor="middle">4</text>
<line x1="740.8" y1="1166.5" x2="740.8" y2="1180.8" stroke="#231f20" stroke-width="3.8" stroke-linecap="butt"/>
<text x="740.8" y="1207" font-size="25.5" font-family="'Liberation Sans', Arial, sans-serif" fill="#231f20" text-anchor="middle">8</text>
<line x1="819.1" y1="1166.5" x2="819.1" y2="1180.8" stroke="#231f20" stroke-width="3.8" stroke-linecap="butt"/>
<text x="819.1" y="1207" font-size="25.5" font-family="'Liberation Sans', Arial, sans-serif" fill="#231f20" text-anchor="middle">24</text>
<line x1="585" y1="1067.4" x2="585" y2="1101.3" stroke="#9b9c9e" stroke-width="1.8" stroke-linecap="butt"/>
<line x1="578.3" y1="1067.4" x2="591.7" y2="1067.4" stroke="#9b9c9e" stroke-width="1.8" stroke-linecap="butt"/>
<line x1="578.3" y1="1101.3" x2="591.7" y2="1101.3" stroke="#9b9c9e" stroke-width="1.8" stroke-linecap="butt"/>
<line x1="663" y1="1033.4" x2="663" y2="1065.6" stroke="#9b9c9e" stroke-width="1.8" stroke-linecap="butt"/>
<line x1="656.6" y1="1033.4" x2="669.4" y2="1033.4" stroke="#9b9c9e" stroke-width="1.8" stroke-linecap="butt"/>
<line x1="656.6" y1="1065.6" x2="669.4" y2="1065.6" stroke="#9b9c9e" stroke-width="1.8" stroke-linecap="butt"/>
<line x1="740.8" y1="972.4" x2="740.8" y2="1005.3" stroke="#9b9c9e" stroke-width="1.8" stroke-linecap="butt"/>
<line x1="734.1" y1="972.4" x2="747.5" y2="972.4" stroke="#9b9c9e" stroke-width="1.8" stroke-linecap="butt"/>
<line x1="734.1" y1="1005.3" x2="747.5" y2="1005.3" stroke="#9b9c9e" stroke-width="1.8" stroke-linecap="butt"/>
<line x1="819.1" y1="890" x2="819.1" y2="932.1" stroke="#9b9c9e" stroke-width="1.8" stroke-linecap="butt"/>
<line x1="812.4" y1="890" x2="825.8" y2="890" stroke="#9b9c9e" stroke-width="1.8" stroke-linecap="butt"/>
<line x1="812.4" y1="932.1" x2="825.8" y2="932.1" stroke="#9b9c9e" stroke-width="1.8" stroke-linecap="butt"/>
<circle cx="585.4" cy="1050.2" r="7.1" fill="#9b9c9e"/>
<circle cx="566.5" cy="1106.6" r="7.1" fill="#9b9c9e"/>
<circle cx="604.5" cy="1093.9" r="7.1" fill="#9b9c9e"/>
<circle cx="585" cy="1084" r="7.1" fill="#9b9c9e"/>
<circle cx="644.1" cy="1028.3" r="7.1" fill="#9b9c9e"/>
<circle cx="682.8" cy="1037.5" r="7.1" fill="#9b9c9e"/>
<circle cx="663" cy="1049" r="7.1" fill="#9b9c9e"/>
<circle cx="663" cy="1080.8" r="7.1" fill="#9b9c9e"/>
<circle cx="740.8" cy="963.8" r="7.1" fill="#9b9c9e"/>
<circle cx="740.8" cy="980.7" r="7.1" fill="#9b9c9e"/>
<circle cx="740.8" cy="989.4" r="7.1" fill="#9b9c9e"/>
<circle cx="740.8" cy="1020.2" r="7.1" fill="#9b9c9e"/>
<circle cx="819.1" cy="881.7" r="7.1" fill="#9b9c9e"/>
<circle cx="819.1" cy="899.9" r="7.1" fill="#9b9c9e"/>
<circle cx="819.1" cy="911.4" r="7.1" fill="#9b9c9e"/>
<circle cx="819.1" cy="950.6" r="7.1" fill="#9b9c9e"/>
<line x1="811.5" y1="881.2" x2="826.7" y2="881.2" stroke="#fff" stroke-width="3" stroke-linecap="butt"/>
<line x1="733.2" y1="961.7" x2="748.4" y2="961.7" stroke="#fff" stroke-width="3" stroke-linecap="butt"/>
<line x1="591" y1="1081.3" x2="662.6" y2="1049.6" stroke="#231f20" stroke-width="2.9" stroke-linecap="butt"/>
<line x1="668" y1="1045.4" x2="740.8" y2="989.3" stroke="#231f20" stroke-width="2.9" stroke-linecap="butt"/>
<line x1="745.2" y1="983.2" x2="818.6" y2="911.6" stroke="#231f20" stroke-width="2.9" stroke-linecap="butt"/>
<text x="743.6" y="936.44" font-size="44" font-family="'Liberation Sans', Arial, sans-serif" font-weight="bold" fill="#231f20" text-anchor="middle">*</text>
<text x="821.6" y="855.64" font-size="44" font-family="'Liberation Sans', Arial, sans-serif" font-weight="bold" fill="#231f20" text-anchor="middle">*</text>
<text x="532.6" y="1249.3" font-size="27.5" font-family="'Liberation Sans', Arial, sans-serif" fill="#231f20" textLength="338.8" lengthAdjust="spacingAndGlyphs">Time after CS exposure (h)</text>
<text x="465.8" y="1163.7" font-size="28" font-family="'Liberation Sans', Arial, sans-serif" fill="#231f20" transform="rotate(-90 465.8 1163.7)" textLength="333" lengthAdjust="spacingAndGlyphs">VEGF protein level (pg/ml)</text>
<text x="956.8" y="728.6" font-size="51" font-family="'Liberation Sans', Arial, sans-serif" fill="#231f20">G</text>
<line x1="1077.6" y1="800.5" x2="1077.6" y2="1170" stroke="#231f20" stroke-width="2" stroke-linecap="butt"/>
<line x1="1067.3" y1="1169.3" x2="1077.6" y2="1169.3" stroke="#231f20" stroke-width="2" stroke-linecap="butt"/>
<text x="1063.5" y="1175.8" font-size="18" font-family="'Liberation Sans', Arial, sans-serif" fill="#231f20" text-anchor="end">0</text>
<line x1="1067.3" y1="1095.7" x2="1077.6" y2="1095.7" stroke="#231f20" stroke-width="2" stroke-linecap="butt"/>
<text x="1063.5" y="1102.2" font-size="18" font-family="'Liberation Sans', Arial, sans-serif" fill="#231f20" text-anchor="end">1</text>
<line x1="1067.3" y1="1022.1" x2="1077.6" y2="1022.1" stroke="#231f20" stroke-width="2" stroke-linecap="butt"/>
<text x="1063.5" y="1028.6" font-size="18" font-family="'Liberation Sans', Arial, sans-serif" fill="#231f20" text-anchor="end">2</text>
<line x1="1067.3" y1="948.5" x2="1077.6" y2="948.5" stroke="#231f20" stroke-width="2" stroke-linecap="butt"/>
<text x="1063.5" y="955" font-size="18" font-family="'Liberation Sans', Arial, sans-serif" fill="#231f20" text-anchor="end">3</text>
<line x1="1067.3" y1="874.9" x2="1077.6" y2="874.9" stroke="#231f20" stroke-width="2" stroke-linecap="butt"/>
<text x="1063.5" y="881.4" font-size="18" font-family="'Liberation Sans', Arial, sans-serif" fill="#231f20" text-anchor="end">4</text>
<line x1="1067.3" y1="801.3" x2="1077.6" y2="801.3" stroke="#231f20" stroke-width="2" stroke-linecap="butt"/>
<text x="1063.5" y="807.8" font-size="18" font-family="'Liberation Sans', Arial, sans-serif" fill="#231f20" text-anchor="end">5</text>
<line x1="1067.4" y1="1169.2" x2="1410.6" y2="1169.2" stroke="#231f20" stroke-width="2" stroke-linecap="butt"/>
<rect x="1103.4" y="1096.5" width="50" height="71.7" fill="#fff"/>
<path d="M1105.15,1169.2 V1098.25 H1151.65 V1169.2" fill="none" stroke="#231f20" stroke-width="3.5" stroke-linejoin="miter"/>
<rect x="1179.9" y="1072.5" width="50.3" height="95.7" fill="#fff"/>
<path d="M1181.65,1169.2 V1074.25 H1228.45 V1169.2" fill="none" stroke="#231f20" stroke-width="3.5" stroke-linejoin="miter"/>
<rect x="1256.7" y="1148.5" width="50.4" height="19.7" fill="#fff"/>
<path d="M1258.45,1169.2 V1150.25 H1305.35 V1169.2" fill="none" stroke="#231f20" stroke-width="3.5" stroke-linejoin="miter"/>
<rect x="1333.4" y="1037" width="50.1" height="131.2" fill="#fff"/>
<path d="M1335.15,1169.2 V1038.75 H1381.75 V1169.2" fill="none" stroke="#231f20" stroke-width="3.5" stroke-linejoin="miter"/>
<line x1="1128.5" y1="1064.9" x2="1128.5" y2="1126.8" stroke="#231f20" stroke-width="2" stroke-linecap="butt"/>
<line x1="1116.3" y1="1064.9" x2="1140.7" y2="1064.9" stroke="#231f20" stroke-width="2" stroke-linecap="butt"/>
<line x1="1116.3" y1="1126.8" x2="1140.7" y2="1126.8" stroke="#231f20" stroke-width="2" stroke-linecap="butt"/>
<line x1="1205.2" y1="1049.3" x2="1205.2" y2="1094.8" stroke="#231f20" stroke-width="2" stroke-linecap="butt"/>
<line x1="1193.1" y1="1049.3" x2="1217.3" y2="1049.3" stroke="#231f20" stroke-width="2" stroke-linecap="butt"/>
<line x1="1193.1" y1="1094.8" x2="1217.3" y2="1094.8" stroke="#231f20" stroke-width="2" stroke-linecap="butt"/>
<line x1="1281.9" y1="1141.6" x2="1281.9" y2="1151.6" stroke="#231f20" stroke-width="2" stroke-linecap="butt"/>
<line x1="1269.9" y1="1141.6" x2="1293.9" y2="1141.6" stroke="#231f20" stroke-width="2" stroke-linecap="butt"/>
<line x1="1358.6" y1="990.3" x2="1358.6" y2="1082.6" stroke="#231f20" stroke-width="2" stroke-linecap="butt"/>
<line x1="1346.3" y1="990.3" x2="1370.9" y2="990.3" stroke="#231f20" stroke-width="2" stroke-linecap="butt"/>
<line x1="1346.3" y1="1082.6" x2="1370.9" y2="1082.6" stroke="#231f20" stroke-width="2" stroke-linecap="butt"/>
<circle cx="1128.6" cy="865.7" r="5.3" fill="none" stroke="#231f20" stroke-width="1.8"/>
<circle cx="1128.2" cy="1002.5" r="5.3" fill="none" stroke="#231f20" stroke-width="1.8"/>
<circle cx="1128.2" cy="1054.8" r="5.3" fill="none" stroke="#231f20" stroke-width="1.8"/>
<circle cx="1122" cy="1116.4" r="5.3" fill="none" stroke="#231f20" stroke-width="1.8"/>
<circle cx="1135.5" cy="1123.7" r="5.3" fill="none" stroke="#231f20" stroke-width="1.8"/>
<circle cx="1128.2" cy="1140.3" r="5.3" fill="none" stroke="#231f20" stroke-width="1.8"/>
<circle cx="1121.5" cy="1159.3" r="5.3" fill="none" stroke="#231f20" stroke-width="1.8"/>
<circle cx="1108.5" cy="1167.1" r="5.3" fill="none" stroke="#231f20" stroke-width="1.8"/>
<circle cx="1135" cy="1166.3" r="5.3" fill="none" stroke="#231f20" stroke-width="1.8"/>
<circle cx="1148.5" cy="1161.9" r="5.3" fill="none" stroke="#231f20" stroke-width="1.8"/>
<polygon points="1205,923.4 1210.75,934.44 1199.25,934.44" fill="none" stroke="#231f20" stroke-width="1.8" stroke-linejoin="miter"/>
<polygon points="1205.2,998.2 1210.95,1009.24 1199.45,1009.24" fill="none" stroke="#231f20" stroke-width="1.8" stroke-linejoin="miter"/>
<polygon points="1205.2,1028.9 1210.95,1039.94 1199.45,1039.94" fill="none" stroke="#231f20" stroke-width="1.8" stroke-linejoin="miter"/>
<polygon points="1195.3,1044 1201.05,1055.04 1189.55,1055.04" fill="none" stroke="#231f20" stroke-width="1.8" stroke-linejoin="miter"/>
<polygon points="1215.1,1052.8 1220.85,1063.84 1209.35,1063.84" fill="none" stroke="#231f20" stroke-width="1.8" stroke-linejoin="miter"/>
<polygon points="1205.2,1075.7 1210.95,1086.74 1199.45,1086.74" fill="none" stroke="#231f20" stroke-width="1.8" stroke-linejoin="miter"/>
<polygon points="1205.2,1091.8 1210.95,1102.84 1199.45,1102.84" fill="none" stroke="#231f20" stroke-width="1.8" stroke-linejoin="miter"/>
<polygon points="1185.7,1152.4 1191.45,1163.44 1179.95,1163.44" fill="none" stroke="#231f20" stroke-width="1.8" stroke-linejoin="miter"/>
<polygon points="1205.2,1144.6 1210.95,1155.64 1199.45,1155.64" fill="none" stroke="#231f20" stroke-width="1.8" stroke-linejoin="miter"/>
<polygon points="1225.2,1146.4 1230.95,1157.44 1219.45,1157.44" fill="none" stroke="#231f20" stroke-width="1.8" stroke-linejoin="miter"/>
<circle cx="1281.9" cy="1115.1" r="5.2" fill="#231f20"/>
<circle cx="1271.5" cy="1149.7" r="5.2" fill="#231f20"/>
<circle cx="1291" cy="1150.2" r="5.2" fill="#231f20"/>
<circle cx="1261.6" cy="1157.2" r="5.2" fill="#231f20"/>
<circle cx="1281.9" cy="1157.2" r="5.2" fill="#231f20"/>
<circle cx="1301.4" cy="1158.8" r="5.2" fill="#231f20"/>
<polygon points="1347.2,875.5 1353.45,887.5 1340.95,887.5" fill="#231f20"/>
<polygon points="1369.5,883.2 1375.75,895.2 1363.25,895.2" fill="#231f20"/>
<polygon points="1358.5,949.3 1364.75,961.3 1352.25,961.3" fill="#231f20"/>
<polygon points="1358.6,1103.2 1364.85,1115.2 1352.35,1115.2" fill="#231f20"/>
<polygon points="1358.6,1120.1 1364.85,1132.1 1352.35,1132.1" fill="#231f20"/>
<polygon points="1358.6,1132.3 1364.85,1144.3 1352.35,1144.3" fill="#231f20"/>
<polygon points="1358.6,1145.3 1364.85,1157.3 1352.35,1157.3" fill="#231f20"/>
<polyline points="1292,847.4 1292,829.4 1361.6,829.4 1361.6,847.4" fill="none" stroke="#231f20" stroke-width="2" stroke-linejoin="miter"/>
<text x="1328.5" y="815.49" font-size="26" font-family="'DejaVu Sans', 'Liberation Sans', sans-serif" font-weight="bold" fill="#231f20" text-anchor="middle">∗</text>
<rect x="960" y="1173.1" width="442.8" height="133.1" fill="none" stroke="#dcdddf" stroke-width="2"/>
<line x1="1082.2" y1="1173.1" x2="1082.2" y2="1306.2" stroke="#dcdddf" stroke-width="2" stroke-linecap="butt"/>
<line x1="1163.6" y1="1173.1" x2="1163.6" y2="1306.2" stroke="#dcdddf" stroke-width="2" stroke-linecap="butt"/>
<line x1="1248.1" y1="1173.1" x2="1248.1" y2="1306.2" stroke="#dcdddf" stroke-width="2" stroke-linecap="butt"/>
<line x1="1329.2" y1="1173.1" x2="1329.2" y2="1306.2" stroke="#dcdddf" stroke-width="2" stroke-linecap="butt"/>
<line x1="960" y1="1217.8" x2="1402.8" y2="1217.8" stroke="#dcdddf" stroke-width="2" stroke-linecap="butt"/>
<line x1="960" y1="1262.5" x2="1402.8" y2="1262.5" stroke="#dcdddf" stroke-width="2" stroke-linecap="butt"/>
<text x="965.3" y="1209.7" font-size="26" font-family="'Liberation Sans', Arial, sans-serif" fill="#231f20" textLength="77.5" lengthAdjust="spacingAndGlyphs">vehicle</text>
<text x="964.6" y="1254" font-size="26" font-family="'Liberation Sans', Arial, sans-serif" fill="#231f20">CSE</text>
<text x="964.8" y="1298.7" font-size="26" font-family="'Liberation Sans', Arial, sans-serif" fill="#231f20" textLength="89.8" lengthAdjust="spacingAndGlyphs">SU5416</text>
<line x1="1198.9" y1="1197.6" x2="1215.7" y2="1197.6" stroke="#231f20" stroke-width="2.9" stroke-linecap="butt"/>
<line x1="1207.3" y1="1189.2" x2="1207.3" y2="1206" stroke="#231f20" stroke-width="2.9" stroke-linecap="butt"/>
<line x1="1281" y1="1197.6" x2="1297.8" y2="1197.6" stroke="#231f20" stroke-width="2.9" stroke-linecap="butt"/>
<line x1="1289.4" y1="1189.2" x2="1289.4" y2="1206" stroke="#231f20" stroke-width="2.9" stroke-linecap="butt"/>
<line x1="1357.9" y1="1197.6" x2="1374.7" y2="1197.6" stroke="#231f20" stroke-width="2.9" stroke-linecap="butt"/>
<line x1="1366.3" y1="1189.2" x2="1366.3" y2="1206" stroke="#231f20" stroke-width="2.9" stroke-linecap="butt"/>
<line x1="1281" y1="1241.3" x2="1297.8" y2="1241.3" stroke="#231f20" stroke-width="2.9" stroke-linecap="butt"/>
<line x1="1289.4" y1="1232.9" x2="1289.4" y2="1249.7" stroke="#231f20" stroke-width="2.9" stroke-linecap="butt"/>
<line x1="1357.9" y1="1241.3" x2="1374.7" y2="1241.3" stroke="#231f20" stroke-width="2.9" stroke-linecap="butt"/>
<line x1="1366.3" y1="1232.9" x2="1366.3" y2="1249.7" stroke="#231f20" stroke-width="2.9" stroke-linecap="butt"/>
<line x1="1357.9" y1="1286" x2="1374.7" y2="1286" stroke="#231f20" stroke-width="2.9" stroke-linecap="butt"/>
<line x1="1366.3" y1="1277.6" x2="1366.3" y2="1294.4" stroke="#231f20" stroke-width="2.9" stroke-linecap="butt"/>
<text x="988.8" y="1161.7" font-size="30.4" font-family="'Liberation Sans', Arial, sans-serif" fill="#231f20" transform="rotate(-90 988.8 1161.7)" textLength="344.6" lengthAdjust="spacingAndGlyphs">miR-1 relative expression</text>
<text x="1034" y="1037.7" font-size="30.4" font-family="'Liberation Sans', Arial, sans-serif" fill="#231f20" transform="rotate(-90 1034 1037.7)" textLength="97.1" lengthAdjust="spacingAndGlyphs">(2<tspan font-size="22.5" dy="-14.5">-ΔΔCt</tspan><tspan dy="14.5">)</tspan></text>
<text x="1498" y="738.7" font-size="51" font-family="'Liberation Sans', Arial, sans-serif" fill="#231f20">H</text>
<line x1="1628.3" y1="808" x2="1628.3" y2="1178" stroke="#231f20" stroke-width="2" stroke-linecap="butt"/>
<line x1="1614.8" y1="1177.6" x2="1628.3" y2="1177.6" stroke="#231f20" stroke-width="2" stroke-linecap="butt"/>
<text x="1609.5" y="1184.1" font-size="18" font-family="'Liberation Sans', Arial, sans-serif" fill="#231f20" text-anchor="end">0</text>
<line x1="1614.8" y1="1103.8" x2="1628.3" y2="1103.8" stroke="#231f20" stroke-width="2" stroke-linecap="butt"/>
<text x="1609.5" y="1110.3" font-size="18" font-family="'Liberation Sans', Arial, sans-serif" fill="#231f20" text-anchor="end">1</text>
<line x1="1614.8" y1="1030" x2="1628.3" y2="1030" stroke="#231f20" stroke-width="2" stroke-linecap="butt"/>
<text x="1609.5" y="1036.5" font-size="18" font-family="'Liberation Sans', Arial, sans-serif" fill="#231f20" text-anchor="end">2</text>
<line x1="1614.8" y1="956.2" x2="1628.3" y2="956.2" stroke="#231f20" stroke-width="2" stroke-linecap="butt"/>
<text x="1609.5" y="962.7" font-size="18" font-family="'Liberation Sans', Arial, sans-serif" fill="#231f20" text-anchor="end">3</text>
<line x1="1614.8" y1="882.4" x2="1628.3" y2="882.4" stroke="#231f20" stroke-width="2" stroke-linecap="butt"/>
<text x="1609.5" y="888.9" font-size="18" font-family="'Liberation Sans', Arial, sans-serif" fill="#231f20" text-anchor="end">4</text>
<line x1="1614.8" y1="808.6" x2="1628.3" y2="808.6" stroke="#231f20" stroke-width="2" stroke-linecap="butt"/>
<text x="1609.5" y="815.1" font-size="18" font-family="'Liberation Sans', Arial, sans-serif" fill="#231f20" text-anchor="end">5</text>
<line x1="1613.5" y1="1177.6" x2="1998" y2="1177.6" stroke="#231f20" stroke-width="2.3" stroke-linecap="butt"/>
<rect x="1648.1" y="1104.1" width="38.7" height="72.5" fill="#939598"/>
<path d="M1651,1177.6 V1107 H1683.9 V1177.6" fill="none" stroke="#231f20" stroke-width="5.8" stroke-linejoin="miter"/>
<rect x="1706.1" y="1151" width="38.7" height="25.6" fill="#a7a9ac"/>
<path d="M1709,1177.6 V1153.9 H1741.9 V1177.6" fill="none" stroke="#231f20" stroke-width="5.8" stroke-linejoin="miter"/>
<rect x="1764.4" y="1112" width="38.2" height="64.6" fill="#939598"/>
<path d="M1767.3,1177.6 V1114.9 H1799.7 V1177.6" fill="none" stroke="#231f20" stroke-width="5.8" stroke-linejoin="miter"/>
<rect x="1822.8" y="944.5" width="37.8" height="232.1" fill="#d9dadb"/>
<path d="M1825.7,1177.6 V947.4 H1857.7 V1177.6" fill="none" stroke="#231f20" stroke-width="5.8" stroke-linejoin="miter"/>
<rect x="1880.6" y="1147" width="38.3" height="29.6" fill="#808285"/>
<path d="M1883.5,1177.6 V1149.9 H1916 V1177.6" fill="none" stroke="#231f20" stroke-width="5.8" stroke-linejoin="miter"/>
<rect x="1938.4" y="1129.7" width="38.3" height="46.9" fill="#a7a9ac"/>
<path d="M1941.3,1177.6 V1132.6 H1973.8 V1177.6" fill="none" stroke="#231f20" stroke-width="5.8" stroke-linejoin="miter"/>
<line x1="1667.4" y1="1083.9" x2="1667.4" y2="1124.2" stroke="#231f20" stroke-width="2" stroke-linecap="butt"/>
<line x1="1657.8" y1="1083.9" x2="1677" y2="1083.9" stroke="#231f20" stroke-width="2" stroke-linecap="butt"/>
<line x1="1657.8" y1="1124.2" x2="1677" y2="1124.2" stroke="#231f20" stroke-width="2" stroke-linecap="butt"/>
<line x1="1783.3" y1="1098.6" x2="1783.3" y2="1108.6" stroke="#231f20" stroke-width="2" stroke-linecap="butt"/>
<line x1="1774" y1="1098.6" x2="1792.6" y2="1098.6" stroke="#231f20" stroke-width="2" stroke-linecap="butt"/>
<line x1="1841.4" y1="914.1" x2="1841.4" y2="972.8" stroke="#231f20" stroke-width="2" stroke-linecap="butt"/>
<line x1="1832" y1="914.1" x2="1850.8" y2="914.1" stroke="#231f20" stroke-width="2" stroke-linecap="butt"/>
<line x1="1832" y1="972.8" x2="1850.8" y2="972.8" stroke="#231f20" stroke-width="2" stroke-linecap="butt"/>
<circle cx="1667.4" cy="1047.7" r="7.4" fill="#231f20"/>
<circle cx="1667.4" cy="1104.1" r="7.4" fill="#231f20"/>
<circle cx="1667.4" cy="1122.2" r="7.4" fill="#231f20"/>
<circle cx="1667.4" cy="1141.5" r="7.4" fill="#231f20"/>
<circle cx="1721.2" cy="1145" r="7.4" fill="#231f20"/>
<circle cx="1737.3" cy="1148.1" r="7.4" fill="#231f20"/>
<circle cx="1729.3" cy="1153.1" r="7.4" fill="#231f20"/>
<circle cx="1713.1" cy="1157.7" r="7.4" fill="#231f20"/>
<circle cx="1783.3" cy="1072.6" r="7.4" fill="#231f20"/>
<circle cx="1771.7" cy="1131.5" r="7.4" fill="#231f20"/>
<circle cx="1783.3" cy="1119.3" r="7.4" fill="#231f20"/>
<circle cx="1795" cy="1120.6" r="7.4" fill="#231f20"/>
<circle cx="1841.4" cy="881.7" r="7.4" fill="#231f20"/>
<circle cx="1841.4" cy="924.5" r="7.4" fill="#231f20"/>
<circle cx="1841.4" cy="945" r="7.4" fill="#231f20"/>
<circle cx="1841.4" cy="1021.8" r="7.4" fill="#231f20"/>
<circle cx="1899.2" cy="1141.9" r="7.4" fill="#231f20"/>
<circle cx="1911.7" cy="1138.5" r="7.4" fill="#231f20"/>
<circle cx="1888.3" cy="1154.3" r="7.4" fill="#231f20"/>
<circle cx="1909.9" cy="1154.3" r="7.4" fill="#231f20"/>
<circle cx="1945.4" cy="1118.5" r="7.4" fill="#231f20"/>
<circle cx="1957.8" cy="1127.6" r="7.4" fill="#231f20"/>
<circle cx="1969.5" cy="1134.1" r="7.4" fill="#231f20"/>
<circle cx="1945.4" cy="1136.2" r="7.4" fill="#231f20"/>
<polyline points="1724.5,847.2 1724.5,828.6 1839.6,828.6 1839.6,847.2" fill="none" stroke="#231f20" stroke-width="3.5" stroke-linejoin="miter"/>
<polyline points="1723.7,933.6 1723.7,914.6 1784.1,914.6 1784.1,933.6" fill="none" stroke="#231f20" stroke-width="3.5" stroke-linejoin="miter"/>
<polyline points="1666.7,1014.8 1666.7,999.3 1719.8,999.3 1719.8,1014.8" fill="none" stroke="#231f20" stroke-width="3.5" stroke-linejoin="miter"/>
<text x="1760.8" y="811.62" font-size="28" font-family="'DejaVu Sans', 'Liberation Sans', sans-serif" font-weight="bold" fill="#231f20" text-anchor="middle">∗</text>
<text x="1782.2" y="811.62" font-size="28" font-family="'DejaVu Sans', 'Liberation Sans', sans-serif" font-weight="bold" fill="#231f20" text-anchor="middle">∗</text>
<text x="1803.6" y="811.62" font-size="28" font-family="'DejaVu Sans', 'Liberation Sans', sans-serif" font-weight="bold" fill="#231f20" text-anchor="middle">∗</text>
<text x="1743.1" y="898.02" font-size="28" font-family="'DejaVu Sans', 'Liberation Sans', sans-serif" font-weight="bold" fill="#231f20" text-anchor="middle">∗</text>
<text x="1764.4" y="898.02" font-size="28" font-family="'DejaVu Sans', 'Liberation Sans', sans-serif" font-weight="bold" fill="#231f20" text-anchor="middle">∗</text>
<text x="1693.8" y="982.46" font-size="27.5" font-family="'DejaVu Sans', 'Liberation Sans', sans-serif" font-weight="bold" fill="#231f20" text-anchor="middle">∗</text>
<rect x="1460.4" y="1183.1" width="526.9" height="238.8" fill="none" stroke="#dcdddf" stroke-width="2"/>
<line x1="1639.1" y1="1183.1" x2="1639.1" y2="1421.9" stroke="#dcdddf" stroke-width="2" stroke-linecap="butt"/>
<line x1="1697.5" y1="1183.1" x2="1697.5" y2="1421.9" stroke="#dcdddf" stroke-width="2" stroke-linecap="butt"/>
<line x1="1755.8" y1="1183.1" x2="1755.8" y2="1421.9" stroke="#dcdddf" stroke-width="2" stroke-linecap="butt"/>
<line x1="1813.6" y1="1183.1" x2="1813.6" y2="1421.9" stroke="#dcdddf" stroke-width="2" stroke-linecap="butt"/>
<line x1="1871.7" y1="1183.1" x2="1871.7" y2="1421.9" stroke="#dcdddf" stroke-width="2" stroke-linecap="butt"/>
<line x1="1929.2" y1="1183.1" x2="1929.2" y2="1421.9" stroke="#dcdddf" stroke-width="2" stroke-linecap="butt"/>
<line x1="1460.4" y1="1223.1" x2="1987.3" y2="1223.1" stroke="#dcdddf" stroke-width="2" stroke-linecap="butt"/>
<line x1="1460.4" y1="1263" x2="1987.3" y2="1263" stroke="#dcdddf" stroke-width="2" stroke-linecap="butt"/>
<line x1="1460.4" y1="1302.6" x2="1987.3" y2="1302.6" stroke="#dcdddf" stroke-width="2" stroke-linecap="butt"/>
<line x1="1460.4" y1="1342.3" x2="1987.3" y2="1342.3" stroke="#dcdddf" stroke-width="2" stroke-linecap="butt"/>
<line x1="1460.4" y1="1382.2" x2="1987.3" y2="1382.2" stroke="#dcdddf" stroke-width="2" stroke-linecap="butt"/>
<text x="1466" y="1214.1" font-size="27.5" font-family="'Liberation Sans', Arial, sans-serif" fill="#231f20" textLength="80.5" lengthAdjust="spacingAndGlyphs">vehicle</text>
<text x="1466" y="1253.7" font-size="27.5" font-family="'Liberation Sans', Arial, sans-serif" fill="#231f20" textLength="46.5" lengthAdjust="spacingAndGlyphs">CSE</text>
<text x="1466" y="1293.8" font-size="27.5" font-family="'Liberation Sans', Arial, sans-serif" fill="#231f20" textLength="146.5" lengthAdjust="spacingAndGlyphs">PI3K inhibitor</text>
<text x="1466" y="1333.5" font-size="27.5" font-family="'Liberation Sans', Arial, sans-serif" fill="#231f20" textLength="139.5" lengthAdjust="spacingAndGlyphs">AKT inhibitor</text>
<text x="1466" y="1373.2" font-size="27.5" font-family="'Liberation Sans', Arial, sans-serif" fill="#231f20" textLength="141.5" lengthAdjust="spacingAndGlyphs">P38 inhibitor</text>
<text x="1466" y="1413" font-size="27.5" font-family="'Liberation Sans', Arial, sans-serif" fill="#231f20" textLength="145.5" lengthAdjust="spacingAndGlyphs">MEK inhibitor</text>
<line x1="1662.3" y1="1204.9" x2="1675.7" y2="1204.9" stroke="#231f20" stroke-width="2" stroke-linecap="butt"/>
<line x1="1669" y1="1198.2" x2="1669" y2="1211.6" stroke="#231f20" stroke-width="2" stroke-linecap="butt"/>
<line x1="1720.3" y1="1204.9" x2="1733.7" y2="1204.9" stroke="#231f20" stroke-width="2" stroke-linecap="butt"/>
<line x1="1727" y1="1198.2" x2="1727" y2="1211.6" stroke="#231f20" stroke-width="2" stroke-linecap="butt"/>
<line x1="1778.7" y1="1204.9" x2="1792.1" y2="1204.9" stroke="#231f20" stroke-width="2" stroke-linecap="butt"/>
<line x1="1785.4" y1="1198.2" x2="1785.4" y2="1211.6" stroke="#231f20" stroke-width="2" stroke-linecap="butt"/>
<line x1="1836.5" y1="1204.9" x2="1849.9" y2="1204.9" stroke="#231f20" stroke-width="2" stroke-linecap="butt"/>
<line x1="1843.2" y1="1198.2" x2="1843.2" y2="1211.6" stroke="#231f20" stroke-width="2" stroke-linecap="butt"/>
<line x1="1894.6" y1="1204.9" x2="1908" y2="1204.9" stroke="#231f20" stroke-width="2" stroke-linecap="butt"/>
<line x1="1901.3" y1="1198.2" x2="1901.3" y2="1211.6" stroke="#231f20" stroke-width="2" stroke-linecap="butt"/>
<line x1="1952.7" y1="1204.9" x2="1966.1" y2="1204.9" stroke="#231f20" stroke-width="2" stroke-linecap="butt"/>
<line x1="1959.4" y1="1198.2" x2="1959.4" y2="1211.6" stroke="#231f20" stroke-width="2" stroke-linecap="butt"/>
<line x1="1720.3" y1="1244.6" x2="1733.7" y2="1244.6" stroke="#231f20" stroke-width="2" stroke-linecap="butt"/>
<line x1="1727" y1="1237.9" x2="1727" y2="1251.3" stroke="#231f20" stroke-width="2" stroke-linecap="butt"/>
<line x1="1778.7" y1="1244.6" x2="1792.1" y2="1244.6" stroke="#231f20" stroke-width="2" stroke-linecap="butt"/>
<line x1="1785.4" y1="1237.9" x2="1785.4" y2="1251.3" stroke="#231f20" stroke-width="2" stroke-linecap="butt"/>
<line x1="1836.5" y1="1244.6" x2="1849.9" y2="1244.6" stroke="#231f20" stroke-width="2" stroke-linecap="butt"/>
<line x1="1843.2" y1="1237.9" x2="1843.2" y2="1251.3" stroke="#231f20" stroke-width="2" stroke-linecap="butt"/>
<line x1="1894.6" y1="1244.6" x2="1908" y2="1244.6" stroke="#231f20" stroke-width="2" stroke-linecap="butt"/>
<line x1="1901.3" y1="1237.9" x2="1901.3" y2="1251.3" stroke="#231f20" stroke-width="2" stroke-linecap="butt"/>
<line x1="1952.7" y1="1244.6" x2="1966.1" y2="1244.6" stroke="#231f20" stroke-width="2" stroke-linecap="butt"/>
<line x1="1959.4" y1="1237.9" x2="1959.4" y2="1251.3" stroke="#231f20" stroke-width="2" stroke-linecap="butt"/>
<line x1="1778.7" y1="1283.9" x2="1792.1" y2="1283.9" stroke="#231f20" stroke-width="2" stroke-linecap="butt"/>
<line x1="1785.4" y1="1277.2" x2="1785.4" y2="1290.6" stroke="#231f20" stroke-width="2" stroke-linecap="butt"/>
<line x1="1836.5" y1="1323.6" x2="1849.9" y2="1323.6" stroke="#231f20" stroke-width="2" stroke-linecap="butt"/>
<line x1="1843.2" y1="1316.9" x2="1843.2" y2="1330.3" stroke="#231f20" stroke-width="2" stroke-linecap="butt"/>
<line x1="1894.6" y1="1363.2" x2="1908" y2="1363.2" stroke="#231f20" stroke-width="2" stroke-linecap="butt"/>
<line x1="1901.3" y1="1356.5" x2="1901.3" y2="1369.9" stroke="#231f20" stroke-width="2" stroke-linecap="butt"/>
<line x1="1952.7" y1="1403.2" x2="1966.1" y2="1403.2" stroke="#231f20" stroke-width="2" stroke-linecap="butt"/>
<line x1="1959.4" y1="1396.5" x2="1959.4" y2="1409.9" stroke="#231f20" stroke-width="2" stroke-linecap="butt"/>
<text x="1534.7" y="1170.7" font-size="30.4" font-family="'Liberation Sans', Arial, sans-serif" fill="#231f20" transform="rotate(-90 1534.7 1170.7)" textLength="346" lengthAdjust="spacingAndGlyphs">miR-1 relative expression</text>
<text x="1579.8" y="1045.8" font-size="30.4" font-family="'Liberation Sans', Arial, sans-serif" fill="#231f20" transform="rotate(-90 1579.8 1045.8)" textLength="96.7" lengthAdjust="spacingAndGlyphs">(2<tspan font-size="22.5" dy="-14">-ΔΔCt</tspan><tspan dy="14">)</tspan></text>
</svg>
</body></html>
